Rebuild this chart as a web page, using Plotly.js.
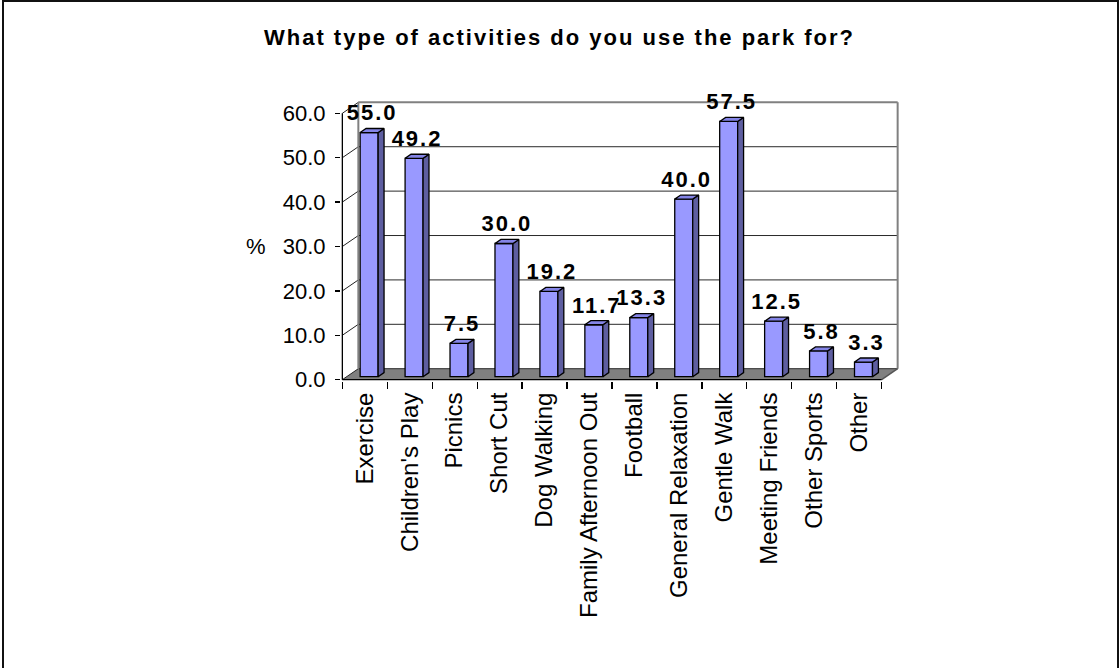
<!DOCTYPE html>
<html>
<head>
<meta charset="utf-8">
<script src="https://cdn.plot.ly/plotly-3.0.1.min.js"></script>
<style>
  html, body { margin: 0; padding: 0; background: #fff; }
  #wrap { position: relative; width: 1119px; height: 668px; }
  #chart { width: 1119px; height: 668px; }
  #frame { position: absolute; left: 2px; top: 0; width: 1113px; height: 680px;
           border: 2px solid #111; pointer-events: none; }
  .gtitle { letter-spacing: 2px; }
  .textpoint text { letter-spacing: 2px; }
</style>
</head>
<body>
<div id="wrap">
  <div id="chart"></div>
  <div id="frame"></div>
</div>
<script>
// ---- data ----
const categories = ["Exercise", "Children's Play", "Picnics", "Short Cut", "Dog Walking",
  "Family Afternoon Out", "Football", "General Relaxation", "Gentle Walk",
  "Meeting Friends", "Other Sports", "Other"];
const values = [55.0, 49.2, 7.5, 30.0, 19.2, 11.7, 13.3, 40.0, 57.5, 12.5, 5.8, 3.3];
const yTickVals = [0, 10, 20, 30, 40, 50, 60];
const chartTitle = "What type of activities do you use the park for?";
const yTitle = "%";

// ---- pseudo-3D geometry (in axis units) ----
const N = categories.length;
const DX = 0.356;   // depth offset along x
const DY = 2.47;    // depth offset along y
const D0 = 0.27, D1 = 0.64; // bar depth span (fraction of full depth)
const HW = 0.2;     // half bar width
const YMAX = yTickVals[yTickVals.length - 1];

const centers = categories.map((_, i) => i + 0.5);

// side faces and top faces as polygons
const sideX = [], sideY = [], topX = [], topY = [];
values.forEach((v, i) => {
  const c = centers[i];
  const xr0 = c + HW + D0 * DX, xr1 = c + HW + D1 * DX;
  const xl0 = c - HW + D0 * DX, xl1 = c - HW + D1 * DX;
  sideX.push(xr0, xr1, xr1, xr0, xr0, null);
  sideY.push(D0 * DY, D1 * DY, v + D1 * DY, v + D0 * DY, D0 * DY, null);
  topX.push(xl0, xr0, xr1, xl1, xl0, null);
  topY.push(v + D0 * DY, v + D0 * DY, v + D1 * DY, v + D1 * DY, v + D0 * DY, null);
});

const font = 'Liberation Sans, Arial, sans-serif';

const traces = [
  {
    type: 'bar',
    x: centers.map(c => c + D0 * DX),
    y: values,
    base: values.map(() => D0 * DY),
    width: HW * 2,
    marker: { color: '#9999FF', line: { color: '#000', width: 1.3 } },
    hoverinfo: 'skip', showlegend: false
  },
  {
    type: 'scatter', mode: 'lines', x: sideX, y: sideY, fill: 'toself',
    fillcolor: '#5E5EA0', line: { color: '#000', width: 1.3 },
    hoverinfo: 'skip', showlegend: false
  },
  {
    type: 'scatter', mode: 'lines', x: topX, y: topY, fill: 'toself',
    fillcolor: '#8484E6', line: { color: '#000', width: 1.3 },
    hoverinfo: 'skip', showlegend: false
  },
  {
    type: 'scatter', mode: 'text',
    x: centers.map(c => c + (D0 + D1) / 2 * DX),
    y: values.map(v => v + D1 * DY + 0.6),
    text: values.map(v => v.toFixed(1)),
    textposition: 'top center',
    textfont: { family: font, size: 22, color: '#000', weight: 'bold' },
    cliponaxis: false,
    hoverinfo: 'skip', showlegend: false
  }
];

// ---- walls, floor, axis lines ----
const shapes = [];
shapes.push({
  type: 'path', layer: 'below', xref: 'x', yref: 'y',
  path: `M 0 0 L ${N} 0 L ${N + DX} ${DY} L ${DX} ${DY} Z`,
  fillcolor: '#808080', line: { width: 0 }
});
yTickVals.forEach(t => {
  shapes.push({ type: 'line', layer: 'below', xref: 'x', yref: 'y',
    x0: DX, x1: N + DX, y0: t + DY, y1: t + DY,
    line: { color: t === YMAX ? '#808080' : '#2a2a2a', width: t === YMAX ? 2 : 1 } });
  shapes.push({ type: 'line', layer: 'below', xref: 'x', yref: 'y',
    x0: 0, x1: DX, y0: t, y1: t + DY, line: { color: '#222', width: 1 } });
});
shapes.push({ type: 'line', layer: 'below', xref: 'x', yref: 'y',
  x0: DX, x1: DX, y0: DY, y1: YMAX + DY, line: { color: '#808080', width: 2 } });
shapes.push({ type: 'line', layer: 'below', xref: 'x', yref: 'y',
  x0: N + DX, x1: N + DX, y0: DY, y1: YMAX + DY, line: { color: '#808080', width: 2 } });
shapes.push({ type: 'line', layer: 'below', xref: 'x', yref: 'y',
  x0: N, x1: N + DX, y0: 0, y1: DY, line: { color: '#555', width: 1.5 } });
shapes.push({ type: 'line', layer: 'above', xref: 'x', yref: 'y',
  x0: 0, x1: 0, y0: 0, y1: YMAX, line: { color: '#000', width: 1.3 } });
shapes.push({ type: 'line', layer: 'above', xref: 'x', yref: 'y',
  x0: 0, x1: N, y0: 0, y1: 0, line: { color: '#000', width: 1.3 } });

const layout = {
  width: 1119, height: 668,
  margin: { l: 341, r: 220, t: 101, b: 287 },
  paper_bgcolor: '#fff', plot_bgcolor: 'rgba(0,0,0,0)',
  font: { family: font, color: '#000', size: 21 },
  title: {
    text: chartTitle, x: 0.5, xanchor: 'center', y: 0.944, yanchor: 'middle',
    yref: 'container',
    font: { family: font, size: 22, color: '#000', weight: 'bold' }
  },
  xaxis: {
    range: [-0.03, N + DX + 0.03],
    tickmode: 'array', tickvals: centers, ticktext: categories,
    tickangle: -90, ticks: 'outside', ticklen: 1, tickcolor: 'rgba(0,0,0,0)',
    tickfont: { family: font, size: 24, color: '#000' },
    minor: { tickmode: 'array', tickvals: categories.map((_, i) => i).concat([N]),
             ticks: 'outside', ticklen: 7, tickcolor: '#000', tickwidth: 1.3, showgrid: false },
    showgrid: false, zeroline: false, showline: false, fixedrange: true
  },
  yaxis: {
    range: [-0.3, YMAX + DY + 0.3],
    tickmode: 'array', tickvals: yTickVals, ticktext: yTickVals.map(t => t.toFixed(1)),
    ticks: 'outside', ticklen: 5, tickcolor: '#000', tickwidth: 1.3,
    ticklabelstandoff: 5,
    tickfont: { family: font, size: 22, color: '#000' },
    showgrid: false, zeroline: false, showline: false, fixedrange: true
  },
  shapes: shapes,
  annotations: [{
    text: yTitle, xref: 'paper', yref: 'y', x: -0.152, y: 30,
    xanchor: 'center', yanchor: 'middle', showarrow: false,
    font: { family: font, size: 22, color: '#000' }
  }],
  showlegend: false
};

Plotly.newPlot('chart', traces, layout, { staticPlot: true, displayModeBar: false });
</script>
</body>
</html>
